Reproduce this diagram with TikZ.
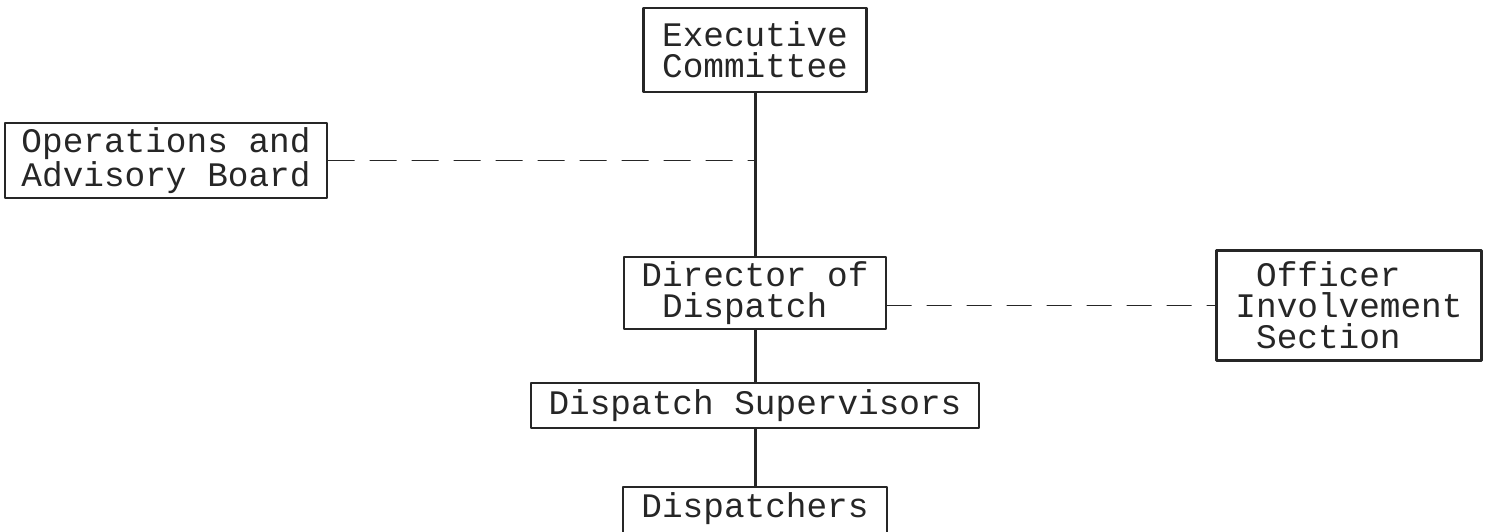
\documentclass[tikz,border=0pt]{standalone}
\usepackage{fontspec}
\newfontfamily\tw{Liberation Mono}
\begin{document}
\begin{tikzpicture}[line join=round, line cap=round,x=0.5pt,y=-0.5pt,black!85]
		\tikzset{every node/.style={draw,line width=1.1pt,inner sep=0pt,font=\tw\fontsize{17.2}{15.5}\selectfont}}
		\useasboundingbox (0,0) rectangle (1489,531);
		%Các ô
		\node[minimum width=111.5pt,minimum height=42pt,align=left] (exec) at (755,50) {Executive\\Committee};
		\node[minimum width=161pt,minimum height=37.5pt,align=left] (ops) at (166,160.5) {Operations and\\Advisory Board};
		\node[minimum width=131pt,minimum height=36pt,align=left] (dir) at (755,293) {Director of\\\phantom{x}Dispatch\phantom{xx}};
		\node[minimum width=132.5pt,minimum height=55pt,align=left] (off) at (1349,305.5) {\phantom{x}Officer\phantom{xxx}\\Involvement\\\phantom{x}Section\phantom{xxx}};
		\node[minimum width=224pt,minimum height=22.5pt] (sup) at (755,405.5) {Dispatch Supervisors};
		\node[minimum width=132pt,minimum height=30pt,text height=11pt,text depth=11pt] (disp) at (755,517) {Dispatchers};
		%Đường nối
		\foreach \a/\b in {exec/dir,dir/sup,sup/disp}
		\draw[line width=1.5pt] (\a) -- (\b);
		\draw[dashed,dash pattern=on 13pt off 8pt,line width=0.7pt] (ops.east) -- (ops.east -| exec.south);
		\draw[dashed,dash pattern=on 12pt off 8pt,line width=0.7pt] (off.west -| dir.east) -- (off.west);
\end{tikzpicture}
\end{document}
